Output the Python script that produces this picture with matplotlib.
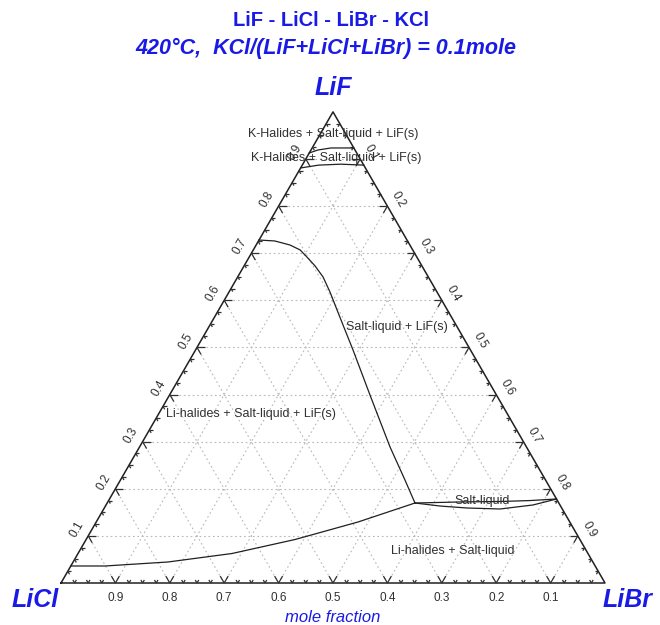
import numpy as np
import matplotlib.pyplot as plt
from matplotlib.collections import LineCollection

plt.rcParams['font.family'] = ['Liberation Sans', 'DejaVu Sans']

# corner components
comp_top, comp_left, comp_right = 'LiF', 'LiCl', 'LiBr'
title1 = 'LiF - LiCl - LiBr - KCl'
title2 = '420°C,  KCl/(LiF+LiCl+LiBr) = 0.1mole'

# phase boundaries: x(LiF) and x(LiBr)
main_F = [0.728, 0.726, 0.7175, 0.707, 0.692, 0.673, 0.6495, 0.6177, 0.5795,
          0.537, 0.4946, 0.399, 0.2887, 0.2186, 0.1698]
main_Br = [0.0, 0.030, 0.062, 0.086, 0.106, 0.1305, 0.157, 0.1856, 0.2177,
           0.2536, 0.2895, 0.3685, 0.4605, 0.523, 0.5658]

low_F = [0.0361, 0.0361, 0.0446, 0.0626, 0.0923, 0.1295, 0.1698]
low_Br = [0.0, 0.0628, 0.1744, 0.283, 0.384, 0.4813, 0.5658]

liq_up_F = [0.1698, 0.172, 0.173, 0.175, 0.1783]
liq_up_Br = [0.5658, 0.6475, 0.7205, 0.775, 0.8217]
liq_lo_F = [0.1698, 0.1634, 0.1592, 0.1571, 0.1656, 0.1783]
liq_lo_Br = [0.5658, 0.615, 0.6667, 0.7285, 0.7848, 0.8217]

top1_F = [0.9128, 0.9191, 0.9234, 0.9234]
top1_Br = [0.0, 0.0128, 0.0346, 0.0766]
top2_F = [0.881, 0.887, 0.889, 0.887]
top2_Br = [0.0, 0.03, 0.07, 0.113]

region_labels = ['K-Halides + Salt-liquid + LiF(s)',
                 'K-Halides + Salt-liquid + LiF(s)',
                 'Salt-liquid + LiF(s)',
                 'Li-halides + Salt-liquid + LiF(s)',
                 'Salt-liquid',
                 'Li-halides + Salt-liquid']

H = np.sqrt(3) / 2


def tern(F, Br):
    F = np.asarray(F, dtype=float)
    Br = np.asarray(Br, dtype=float)
    return Br + 0.5 * F, H * F


# figure laid out in pixels: triangle side 544 px, LiCl corner at (61, 583)
W, Hpx, side, x0, y0 = 660, 625, 544, 61, 583


def pix(px, py):
    return (px - x0) / side, (y0 - py) / side


fig = plt.figure(figsize=(W / 100, Hpx / 100), dpi=100)
ax = fig.add_axes([0, 0, 1, 1])
ax.set_xlim(pix(0, 0)[0], pix(W, 0)[0])
ax.set_ylim(pix(0, Hpx)[1], pix(0, 0)[1])
ax.axis('off')

# grid
grid_col = '#b8b8b8'
for v in np.arange(1, 10) / 10:
    for F, Br in [([v, v], [0, 1 - v]), ([0, 1 - v], [v, v]), ([0, 1 - v], [1 - v, 0])]:
        gx, gy = tern(F, Br)
        ax.plot(gx, gy, color=grid_col, lw=0.8, ls=(0, (1.5, 2.5)), zorder=1)

# frame
ax.plot([0, 1, 0.5, 0], [0, 0, H, 0], color='#202020', lw=1.1, zorder=3)

# ticks
segs = []
for k in range(1, 40):
    t = k / 40
    L = 8 / side if k % 4 == 0 else 3.5 / side
    pts = [((t, 0), [(0.5, H), (-0.5, H)]),
           ((0.5 * t, H * t), [(1, 0), (0.5, -H)]),
           ((1 - 0.5 * t, H * t), [(-1, 0), (-0.5, -H)])]
    for (px_, py_), dirs in pts:
        for dx, dy in dirs:
            segs.append([(px_, py_), (px_ + L * dx, py_ + L * dy)])
ax.add_collection(LineCollection(segs, colors='#303030', lw=0.9, zorder=3))

# tick labels
tick_col = '#303030'
off = 13 / side
for k in range(1, 10):
    t = k / 10
    ax.text(t, -15 / side, f'{1 - t:.1f}', ha='center', va='center',
            fontsize=8.5, color=tick_col)
    ax.text(0.5 * t - H * off, H * t + 0.5 * off, f'{t:.1f}', ha='center',
            va='center', rotation=60, fontsize=8.5, color=tick_col)
    ax.text(1 - 0.5 * t + H * off, H * t + 0.5 * off, f'{1 - t:.1f}',
            ha='center', va='center', rotation=-60, fontsize=8.5, color=tick_col)

# phase boundaries
for F, Br in [(main_F, main_Br), (low_F, low_Br), (liq_up_F, liq_up_Br),
              (liq_lo_F, liq_lo_Br), (top1_F, top1_Br), (top2_F, top2_Br)]:
    bx, by = tern(F, Br)
    ax.plot(bx, by, color='#202020', lw=0.9, zorder=4)

# region labels
lab_pos = [(333, 134), (336, 158), (397, 327), (251, 414), (482, 501), (453, 551)]
for s, (px_, py_) in zip(region_labels, lab_pos):
    ax.text(*pix(px_, py_), s, ha='center', va='center', fontsize=9,
            color='#303030', zorder=5)

# titles and corner names
blue = '#1a1ae6'
ax.text(*pix(331, 21), title1, ha='center', va='center', fontsize=14.5,
        fontweight='bold', color=blue)
ax.text(*pix(326, 48), title2, ha='center', va='center', fontsize=15.5,
        fontweight='bold', style='italic', color=blue)
ax.text(*pix(333, 88), comp_top, ha='center', va='center', fontsize=18,
        fontweight='bold', style='italic', color=blue)
ax.text(*pix(35, 600), comp_left, ha='center', va='center', fontsize=18,
        fontweight='bold', style='italic', color=blue)
ax.text(*pix(628, 600), comp_right, ha='center', va='center', fontsize=18,
        fontweight='bold', style='italic', color=blue)
ax.text(*pix(333, 617), 'mole fraction', ha='center', va='center',
        fontsize=12, style='italic', color=blue)

fig.savefig('out.png', dpi=100)
